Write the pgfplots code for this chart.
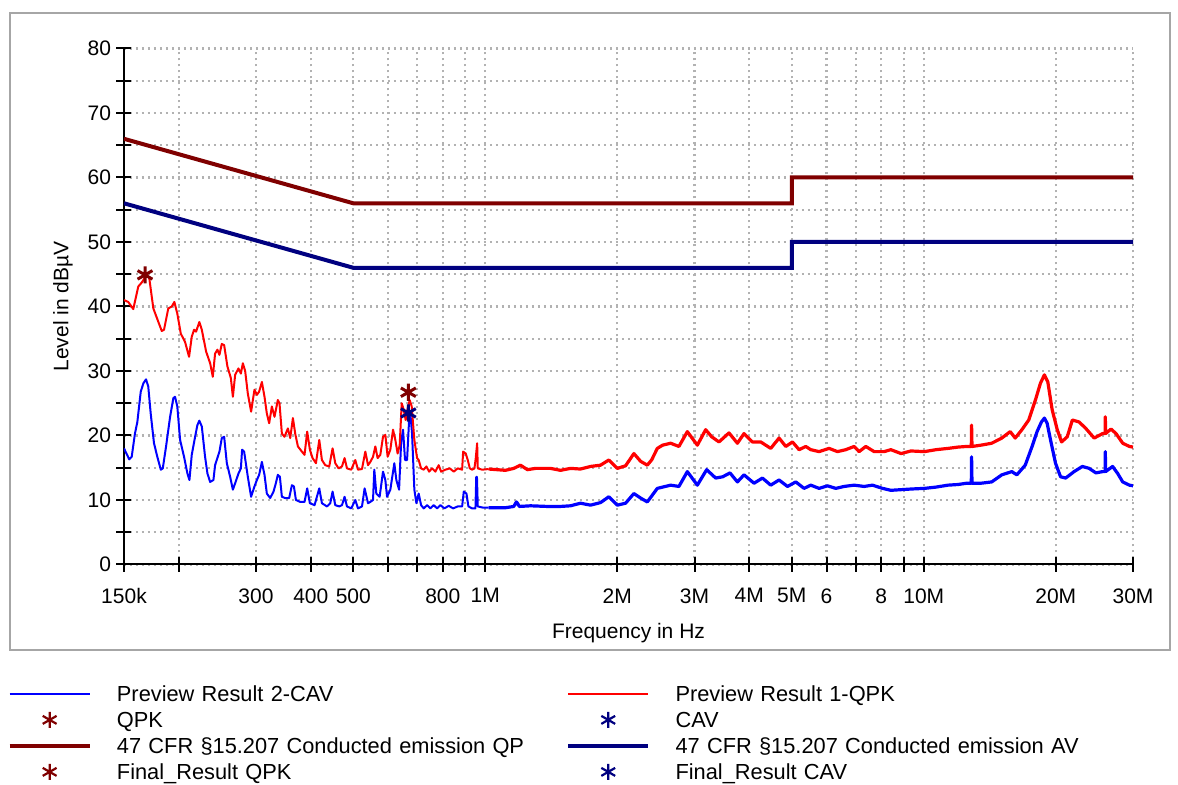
\documentclass[border=0pt]{standalone}
\usepackage{fontspec}
\setmainfont{Liberation Sans}
\usepackage{pgfplots}
\pgfplotsset{compat=1.18}
\definecolor{limred}{RGB}{128,0,0}
\definecolor{limblue}{RGB}{0,0,128}
\newcommand\tickfont{\fontsize{10.5}{12}\selectfont}
\newcommand\legfont{\fontsize{10.9}{13}\selectfont}
\begin{document}
\begin{tikzpicture}
\path[use as bounding box] (0,0) rectangle (589pt,392.5pt);
\fill[white] (0,0) rectangle (589pt,392.5pt);
\draw[black!35, line width=1.2pt] (5pt,67.5pt) rectangle (585pt,386pt);
\begin{axis}[
  at={(62pt,110.25pt)}, anchor=south west,
  scale only axis, width=504.5pt, height=258pt,
  xmode=log, xmin=0.15, xmax=30, ymin=0, ymax=80,
  axis x line*=bottom, axis y line*=left,
  axis line style={line width=1pt, -},
  xtick={0.15,0.2,0.3,0.4,0.5,0.6,0.7,0.8,0.9,1,2,3,4,5,6,7,8,9,10,20,30},
  xticklabels={150k,,300,400,500,,,800,,1M,2M,3M,4M,5M,6,,8,,10M,20M,30M},
  ytick={0,5,...,80},
  yticklabels={0,,10,,20,,30,,40,,50,,60,,70,,80},
  minor tick length=0pt,
  major tick length=7.5pt, tick align=center,
  tick style={black, line width=1pt},
  xmajorgrids, ymajorgrids,
  grid style={black!30, line width=1.1pt, dash pattern=on 1.1pt off 1.9pt},
  /pgf/number format/assume math mode=true,
  xticklabel style={font=\tickfont, anchor=north, inner sep=0pt, yshift=-8pt},
  yticklabel style={font=\tickfont, anchor=east, inner sep=0pt, xshift=-2.5pt},
  xlabel={Frequency in Hz},
  xlabel style={font=\tickfont, at={(axis description cs:0.5,-0.133)}, anchor=center},
  ylabel={Level in dB\textmu V},
  ylabel style={font=\tickfont, at={(axis description cs:-0.0605,0.5)}, anchor=center},
  legend columns=2,
  legend cell align=left,
  legend image code/.code={\draw[yshift=1.5pt,mark repeat=2,mark phase=2,#1] plot coordinates {(0pt,0pt) (20pt,0pt) (40pt,0pt)};},
  legend style={at={(axis description cs:-0.116,-0.2306)}, anchor=north west,
    draw=none, fill=none, inner sep=0pt, column sep=12.5pt, row sep=0pt,
    /tikz/every even column/.append style={nodes={text width=212pt}},
    nodes={inner sep=0pt, text height=9pt, text depth=4pt, font=\legfont}},
]
% preview average (blue), below 1 MHz
\addplot[forget plot, blue, line width=1pt, line join=round] coordinates {
(0.1500,18.0)(0.1542,16.3)(0.1562,16.7)(0.1589,20.3)(0.1609,22.1)(0.1638,26.8)(0.1661,28.1)(0.1684,28.7)
(0.1704,27.6)(0.1726,23.4)(0.1756,18.8)(0.1787,16.7)(0.1820,14.7)(0.1839,14.9)(0.1871,18.3)(0.1911,22.9)
(0.1944,25.8)(0.1961,26.0)(0.1985,24.5)(0.2014,19.3)(0.2056,16.7)(0.2093,14.1)(0.2115,13.1)(0.2141,17.0)
(0.2179,19.8)(0.2205,21.6)(0.2228,22.3)(0.2257,21.4)(0.2296,16.7)(0.2325,14.1)(0.2358,12.8)(0.2399,13.1)
(0.2420,15.4)(0.2476,17.5)(0.2507,19.6)(0.2538,19.8)(0.2574,15.7)(0.2619,13.6)(0.2657,11.6)(0.2689,12.6)
(0.2736,14.1)(0.2771,14.9)(0.2789,17.8)(0.2819,17.5)(0.2874,13.6)(0.2924,10.5)(0.2976,12.1)(0.3014,13.1)
(0.3050,13.9)(0.3094,15.9)(0.3137,13.9)(0.3176,11.0)(0.3232,10.3)(0.3289,11.3)(0.3330,12.6)(0.3365,13.9)
(0.3401,13.6)(0.3437,10.5)(0.3497,10.3)(0.3571,10.3)(0.3623,12.3)(0.3661,12.1)(0.3700,10.0)(0.3784,9.7)
(0.3871,9.7)(0.3926,11.8)(0.3982,9.5)(0.4080,9.2)(0.4182,11.8)(0.4241,9.5)(0.4355,9.0)(0.4431,9.5)
(0.4485,11.3)(0.4549,9.2)(0.4645,9.0)(0.4712,9.2)(0.4777,10.5)(0.4837,9.0)(0.4947,8.7)(0.5053,10.0)
(0.5125,8.7)(0.5234,9.0)(0.5307,11.8)(0.5402,9.5)(0.5468,9.7)(0.5546,10.0)(0.5584,14.7)(0.5643,11.0)
(0.5742,10.5)(0.5845,14.4)(0.5917,13.1)(0.5970,10.5)(0.6074,11.6)(0.6203,15.7)(0.6269,13.1)(0.6360,11.6)
(0.6427,18.8)(0.6494,20.9)(0.6562,16.2)(0.6632,16.2)(0.6703,22.4)(0.6748,23.4)(0.6808,20.3)(0.6891,11.6)
(0.6964,9.5)(0.7049,11.0)(0.7139,9.2)(0.7238,8.7)(0.7367,9.2)(0.7496,8.7)(0.7629,9.2)(0.7765,8.7)
(0.7901,9.2)(0.8069,8.7)(0.8253,9.1)(0.8446,8.7)(0.8654,9.0)(0.8855,9.0)(0.8932,11.3)(0.9058,11.0)
(0.9153,9.0)(0.9334,8.7)(0.9497,8.7)(0.9537,13.6)(0.9572,13.6)(0.9613,9.0)(0.9907,8.8)(1.0182,8.8)
};
% preview average (blue), above 1 MHz
\addplot[forget plot, blue, line width=1.6pt, line join=round] coordinates {
(1.0182,8.8)(1.0641,8.8)(1.1117,8.8)(1.1612,9.0)(1.1778,9.7)(1.1966,9.0)(1.2677,9.1)(1.3841,9.0)
(1.4846,9.0)(1.5644,9.1)(1.6490,9.5)(1.7381,9.2)(1.8318,9.6)(1.9134,10.5)(1.9998,9.2)(2.0889,9.5)
(2.1822,11.0)(2.2604,10.3)(2.3414,9.7)(2.3949,10.6)(2.4677,11.8)(2.5375,12.0)(2.6465,12.3)(2.7645,12.1)
(2.8893,14.4)(3.0453,12.3)(3.1980,14.7)(3.3530,13.4)(3.4786,13.6)(3.6146,14.2)(3.7580,12.8)(3.8908,13.9)
(4.1007,12.6)(4.2858,13.4)(4.4769,12.3)(4.6768,13.1)(4.8878,12.1)(5.1057,12.8)(5.3333,11.8)(5.5243,12.3)
(5.7707,11.8)(6.0308,12.2)(6.3000,11.8)(6.5804,12.1)(6.9356,12.3)(7.3114,12.1)(7.6401,12.3)(8.0538,11.8)
(8.4117,11.5)(8.8736,11.6)(9.3457,11.7)(10.039,11.8)(10.658,12.0)(11.359,12.3)(11.966,12.4)(12.518,12.6)
(12.833,12.6)(12.853,16.7)(12.880,12.6)(13.504,12.6)(14.284,12.8)(15.063,13.9)(15.876,14.4)(16.299,13.9)
(17.035,15.4)(17.659,18.3)(18.128,20.6)(18.552,22.1)(18.843,22.7)(19.112,21.9)(19.459,19.3)(19.975,15.7)
(20.506,13.6)(21.064,13.4)(22.015,14.4)(22.995,15.2)(23.833,14.9)(24.693,14.2)(25.572,14.4)(25.910,14.4)
(25.940,17.5)(25.980,14.4)(26.954,15.2)(27.685,14.1)(28.422,12.8)(29.441,12.3)(30.000,12.2)
};
% preview quasi-peak (red), below 1 MHz
\addplot[forget plot, red, line width=1pt, line join=round] coordinates {
(0.1500,41.0)(0.1534,40.7)(0.1575,39.6)(0.1617,43.1)(0.1646,43.7)(0.1690,44.9)(0.1713,44.4)(0.1750,39.7)
(0.1829,36.2)(0.1851,36.4)(0.1893,39.7)(0.1928,40.0)(0.1954,40.7)(0.1985,38.9)(0.2021,35.8)(0.2067,34.5)
(0.2111,32.2)(0.2141,35.3)(0.2167,36.4)(0.2190,36.1)(0.2228,37.6)(0.2257,36.4)(0.2309,33.0)(0.2358,31.2)
(0.2391,29.1)(0.2420,32.7)(0.2450,33.3)(0.2476,32.5)(0.2507,34.2)(0.2538,34.0)(0.2582,30.7)(0.2629,28.9)
(0.2657,26.0)(0.2689,29.4)(0.2736,30.4)(0.2771,29.6)(0.2800,31.2)(0.2834,30.0)(0.2874,26.5)(0.2924,23.7)
(0.2976,27.1)(0.3014,26.3)(0.3050,26.8)(0.3094,28.3)(0.3137,26.0)(0.3176,23.4)(0.3215,21.9)(0.3261,24.5)
(0.3306,22.9)(0.3365,25.5)(0.3394,25.0)(0.3437,20.3)(0.3484,19.8)(0.3547,21.1)(0.3591,19.6)(0.3642,22.7)
(0.3686,20.3)(0.3739,18.3)(0.3818,17.5)(0.3871,17.0)(0.3926,20.6)(0.3982,17.8)(0.4037,16.5)(0.4110,15.7)
(0.4182,19.3)(0.4241,16.2)(0.4316,15.4)(0.4407,15.2)(0.4485,18.0)(0.4549,15.7)(0.4629,14.9)(0.4712,15.2)
(0.4777,16.5)(0.4837,14.9)(0.4947,14.7)(0.5053,16.2)(0.5125,14.7)(0.5234,14.8)(0.5326,17.5)(0.5402,15.4)
(0.5468,15.9)(0.5546,16.7)(0.5614,18.3)(0.5682,16.5)(0.5763,17.0)(0.5845,19.8)(0.5917,20.1)(0.5989,16.7)
(0.6074,17.8)(0.6161,20.9)(0.6236,19.3)(0.6312,17.2)(0.6380,18.5)(0.6448,25.0)(0.6516,24.0)(0.6583,22.4)
(0.6653,24.2)(0.6724,25.5)(0.6796,24.5)(0.6891,19.3)(0.6990,16.5)(0.7049,16.2)(0.7139,14.9)(0.7238,14.7)
(0.7340,15.2)(0.7446,14.4)(0.7563,14.9)(0.7696,14.4)(0.7831,15.4)(0.7931,14.4)(0.8111,14.7)(0.8299,14.9)
(0.8475,14.4)(0.8654,14.9)(0.8855,14.7)(0.8902,17.5)(0.9025,17.2)(0.9121,16.2)(0.9219,14.9)(0.9334,14.7)
(0.9447,14.9)(0.9512,16.5)(0.9582,18.8)(0.9613,14.9)(0.9837,14.7)(1.0182,14.8)
};
% preview quasi-peak (red), above 1 MHz
\addplot[forget plot, red, line width=1.6pt, line join=round] coordinates {
(1.0182,14.8)(1.0641,14.7)(1.1117,14.6)(1.1612,14.9)(1.2028,15.4)(1.2480,14.7)(1.3019,14.9)(1.4083,14.9)
(1.4846,14.6)(1.5644,14.9)(1.6490,14.8)(1.7381,15.2)(1.8318,15.4)(1.9134,16.2)(1.9998,14.9)(2.0889,15.3)
(2.1822,17.2)(2.2604,16.0)(2.3414,15.4)(2.3949,16.2)(2.4677,18.0)(2.5375,18.5)(2.6465,18.8)(2.7645,18.3)
(2.8893,20.6)(3.0453,18.5)(3.1812,20.9)(3.2832,19.8)(3.4117,19.0)(3.5956,20.4)(3.7580,18.8)(3.8908,20.3)
(4.0664,19.0)(4.2477,19.0)(4.4769,18.0)(4.6768,19.6)(4.8443,18.3)(5.0180,19.0)(5.1950,17.8)(5.3811,18.3)
(5.5243,17.8)(5.7707,17.5)(6.0818,18.0)(6.3563,17.5)(6.6393,17.8)(6.9356,18.3)(7.1203,17.5)(7.3756,18.3)
(7.7048,17.5)(8.1209,17.5)(8.4117,17.8)(8.8736,17.2)(9.3457,17.6)(10.039,17.5)(10.658,17.8)(11.359,18.0)
(11.966,18.2)(12.518,18.3)(12.833,18.3)(12.853,21.6)(12.880,18.3)(13.504,18.5)(14.284,18.8)(15.063,19.6)
(15.743,20.6)(16.163,19.6)(16.742,20.9)(17.351,22.4)(17.972,25.5)(18.451,28.1)(18.843,29.4)(19.183,28.3)
(19.622,24.0)(20.154,20.9)(20.614,19.0)(21.241,19.8)(21.818,22.4)(22.600,22.1)(23.410,21.1)(24.467,19.6)
(25.572,20.3)(25.910,20.3)(25.940,22.9)(25.980,20.3)(26.728,21.0)(27.438,20.3)(28.422,18.8)(29.441,18.3)
(30.000,18.2)
};
% limit lines
\addplot[forget plot, limred, line width=2pt] coordinates {(0.15,66)(0.5,56)(5,56)(5,60)(30,60)};
\addplot[forget plot, limblue, line width=2pt] coordinates {(0.15,56)(0.5,46)(5,46)(5,50)(30,50)};
% final results
\addplot[forget plot, only marks, mark=asterisk, mark size=4.3pt, limred, mark options={line width=1.5pt}]
  coordinates {(0.1675,44.9)(0.6677,26.7)};
\addplot[forget plot, only marks, mark=asterisk, mark size=4.3pt, limblue, mark options={line width=1.5pt}]
  coordinates {(0.6677,23.5)};
% legend
\addlegendimage{blue, line width=1pt}
\addlegendentry{Preview Result 2-CAV}
\addlegendimage{red, line width=1pt}
\addlegendentry{Preview Result 1-QPK}
\addlegendimage{only marks, mark=asterisk, mark size=4pt, limred, mark options={line width=1.1pt}}
\addlegendentry{QPK}
\addlegendimage{only marks, mark=asterisk, mark size=4pt, limblue, mark options={line width=1.1pt}}
\addlegendentry{CAV}
\addlegendimage{limred, line width=2.3pt}
\addlegendentry{47 CFR §15.207 Conducted emission QP}
\addlegendimage{limblue, line width=2.3pt}
\addlegendentry{47 CFR §15.207 Conducted emission AV}
\addlegendimage{only marks, mark=asterisk, mark size=4pt, limred, mark options={line width=1.1pt}}
\addlegendentry{Final\_Result QPK}
\addlegendimage{only marks, mark=asterisk, mark size=4pt, limblue, mark options={line width=1.1pt}}
\addlegendentry{Final\_Result CAV}
\end{axis}
\end{tikzpicture}
\end{document}
